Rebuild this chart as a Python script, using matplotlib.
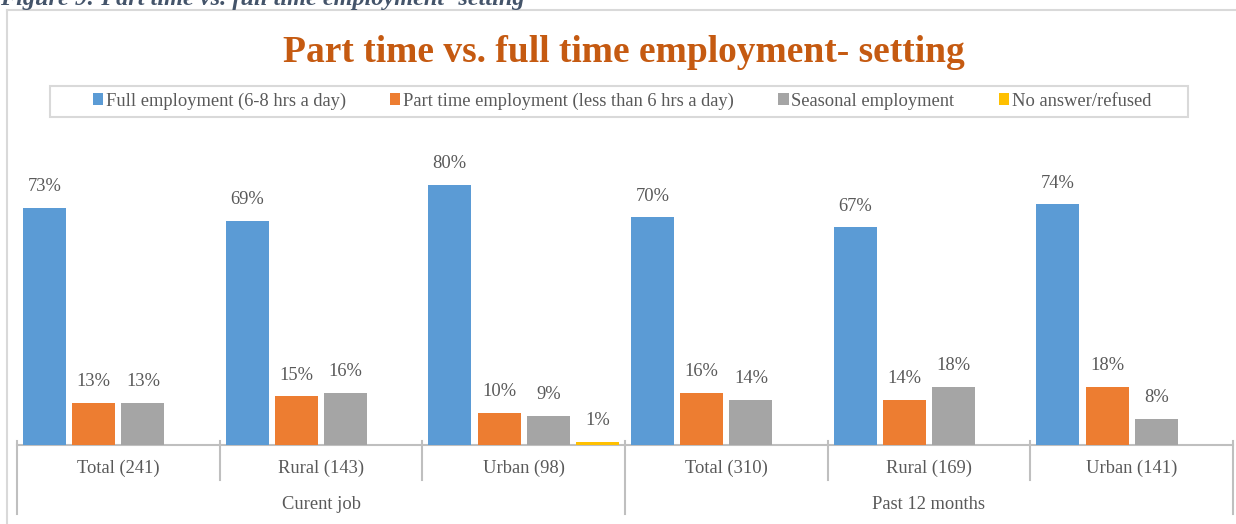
import numpy as np
import matplotlib
matplotlib.use("Agg")
import matplotlib.pyplot as plt
from matplotlib.lines import Line2D
from matplotlib.patches import Rectangle
import matplotlib.transforms as mtransforms

plt.rcParams["font.family"] = ["Liberation Serif", "DejaVu Serif"]

categories = ["Total (241)", "Rural (143)", "Urban (98)",
              "Total (310)", "Rural (169)", "Urban (141)"]
groups = ["Curent job", "Past 12 months"]
series = ["Full employment (6-8 hrs a day)",
          "Part time employment (less than 6 hrs a day)",
          "Seasonal employment",
          "No answer/refused"]
full_time = [73, 69, 80, 70, 67, 74]
part_time = [13, 15, 10, 16, 14, 18]
seasonal = [13, 16, 9, 14, 18, 8]
no_answer = [0, 0, 1, 0, 0, 0]

colors = ["#5B9BD5", "#ED7D31", "#A5A5A5", "#FFC000"]
txt = "#595959"
fs = 13.3
W, H = 1236, 524

fig = plt.figure(figsize=(W / 100, H / 100), dpi=100)
ax = fig.add_axes([17 / W, (H - 445) / H, 1216 / W, 325 / H])

x = np.arange(len(categories))
step = 0.243
width = 0.212
values = [full_time, part_time, seasonal, no_answer]
for i, (vals, col, name) in enumerate(zip(values, colors, series)):
    pos = x + (i - 1.5) * step
    ax.bar(pos, vals, width, color=col, linewidth=0, label=name, zorder=2)
    for px, v in zip(pos, vals):
        if v > 0:
            ax.annotate(f"{v}%", (px, v), xytext=(0, 21),
                        textcoords="offset pixels", ha="center", va="center",
                        fontsize=fs, color=txt)

ax.set_xlim(-0.5, len(categories) - 0.5)
ax.set_ylim(0, 100)
ax.axis("off")

# category axis with two-level labels
axis_col = "#BFBFBF"
tr = mtransforms.blended_transform_factory(ax.transData, ax.transAxes)
ax.add_line(Line2D([-0.5, 5.5], [0, 0], transform=tr, color=axis_col,
                   lw=1.5, clip_on=False, zorder=1))
for b in np.arange(-0.5, 6, 1.0):
    y_end = -0.212 if b in (-0.5, 2.5, 5.5) else -0.108
    ax.add_line(Line2D([b, b], [0.012, y_end], transform=tr, color=axis_col,
                       lw=1.5, clip_on=False))
for xi, lab in zip(x, categories):
    ax.text(xi, -0.073, lab, transform=tr, ha="center", va="center",
            fontsize=fs, color=txt)
for gi, lab in enumerate(groups):
    ax.text(1 + 3 * gi, -0.182, lab, transform=tr, ha="center", va="center",
            fontsize=fs, color=txt)

# title and caption
fig.text(624 / W, 1 - 52 / H, "Part time vs. full time employment- setting",
         ha="center", va="center", fontsize=27, fontweight="bold",
         color="#C55A11")
fig.text(0, 1 - 5 / H, "Figure 9: Part time vs. full time employment- setting",
         ha="left", va="baseline", fontsize=17.5, fontweight="bold",
         fontstyle="italic", color="#44546A")

# chart border (left and top edges)
fig.add_artist(Line2D([7 / W, 7 / W], [0, 1 - 10 / H], color="#D9D9D9", lw=1.5))
fig.add_artist(Line2D([7 / W, 1], [1 - 10 / H, 1 - 10 / H], color="#D9D9D9", lw=1.5))

# legend box
fig.add_artist(Rectangle((50 / W, 1 - 117 / H), 1138 / W, 31 / H,
                         transform=fig.transFigure, fill=False,
                         edgecolor="#D9D9D9", lw=1.5))
handles, labels = ax.get_legend_handles_labels()
fig.legend(handles, labels, loc="center", bbox_to_anchor=(622 / W, 1 - 101 / H),
           ncol=4, frameon=False, fontsize=fs, labelcolor=txt,
           handlelength=0.55, handleheight=0.55, handletextpad=0.15,
           columnspacing=2.4, borderaxespad=0)

fig.savefig("out.png", dpi=100)
